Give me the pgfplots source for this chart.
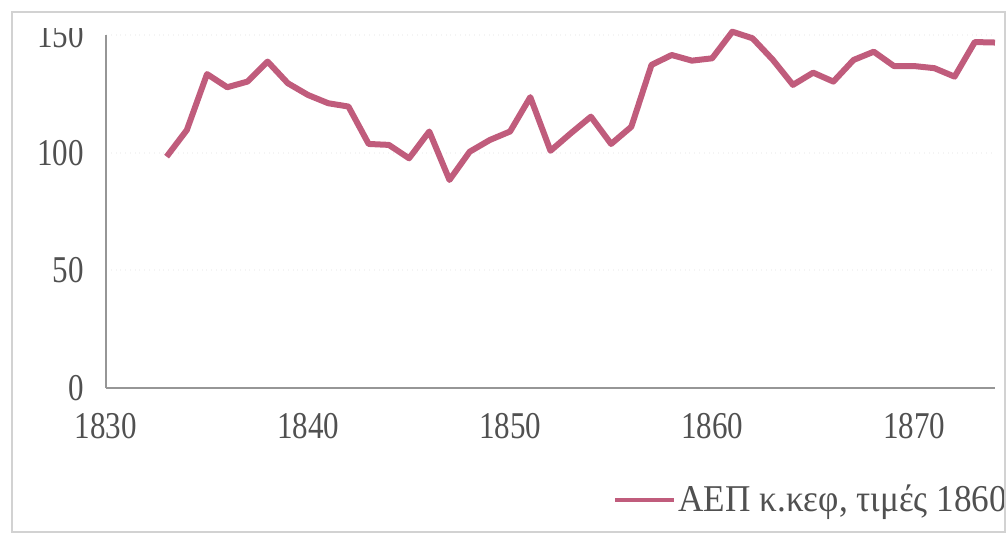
\documentclass[border=0pt]{standalone}
\usepackage{fontspec}
\setmainfont{Liberation Serif}[FakeStretch=0.82]
\newfontfamily\legfont{Liberation Serif}[FakeStretch=0.93]
\usepackage{pgfplots}
\pgfplotsset{compat=1.18}
\definecolor{lineclr}{RGB}{192,92,124}
\definecolor{axclr}{RGB}{150,150,150}
\definecolor{txtclr}{RGB}{80,80,80}
\begin{document}
\begin{tikzpicture}[font=\fontsize{19}{22}\selectfont]
\useasboundingbox (0,0) rectangle (503bp,267.5bp);
\clip (0,0) rectangle (503bp,267.5bp);
\begin{axis}[
  at={(53bp,73.5bp)}, anchor=south west,
  scale only axis, width=444.5bp, height=176.5bp,
  xmin=1830, xmax=1874, ymin=0, ymax=150,
  xtick={1830,1840,1850,1860,1870},
  ytick={0,50,100,150},
  /pgf/number format/assume math mode=true,
  /pgf/number format/1000 sep={},
  major tick length=0pt,
  axis x line*=bottom, axis y line*=left,
  axis line style={axclr, line width=1.3bp, -},
  ymajorgrids, major grid style={gray!9, dotted, line width=1bp},
  ticklabel style={txtclr},
  yticklabel style={anchor=east, inner sep=0pt, xshift=-11bp},
  xticklabel style={anchor=north, inner sep=0pt, yshift=-12.5bp},
  clip=false,
  legend style={at={(0.570,-0.317)}, anchor=west, draw=none, fill=none,
    inner sep=0pt, nodes={inner sep=0pt, text=txtclr}},
  legend image code/.code={\draw[#1, line width=2.2bp] (0bp,0bp) -- (29.5bp,0bp);},
  legend cell align=left,
]
\addplot[lineclr, line width=3bp, line join=round] table[x=year, y=val] {
year val
1833 98.3
1834 109.6
1835 133.4
1836 127.8
1837 130.2
1838 138.7
1839 129.5
1840 124.5
1841 121.0
1842 119.6
1843 103.7
1844 103.3
1845 97.6
1846 109.0
1847 88.4
1848 100.4
1849 105.4
1850 109.0
1851 123.6
1852 100.8
1853 108.2
1854 115.3
1855 103.7
1856 111.0
1857 137.3
1858 141.5
1859 139.1
1860 140.1
1861 151.4
1862 148.6
1863 139.5
1864 128.8
1865 134.0
1866 130.2
1867 139.4
1868 142.9
1869 136.8
1870 136.8
1871 135.9
1872 132.3
1873 147.0
1874 146.8
};
\addlegendentry{\hspace{1bp}\legfont ΑΕΠ κ.κεφ, τιμές 1860}
\end{axis}
\fill[white] (10bp,253.5bp) rectangle (50bp,261bp);
\draw[gray!35, line width=1bp] (6bp,1.5bp) rectangle (502.5bp,261.5bp);
\end{tikzpicture}
\end{document}
